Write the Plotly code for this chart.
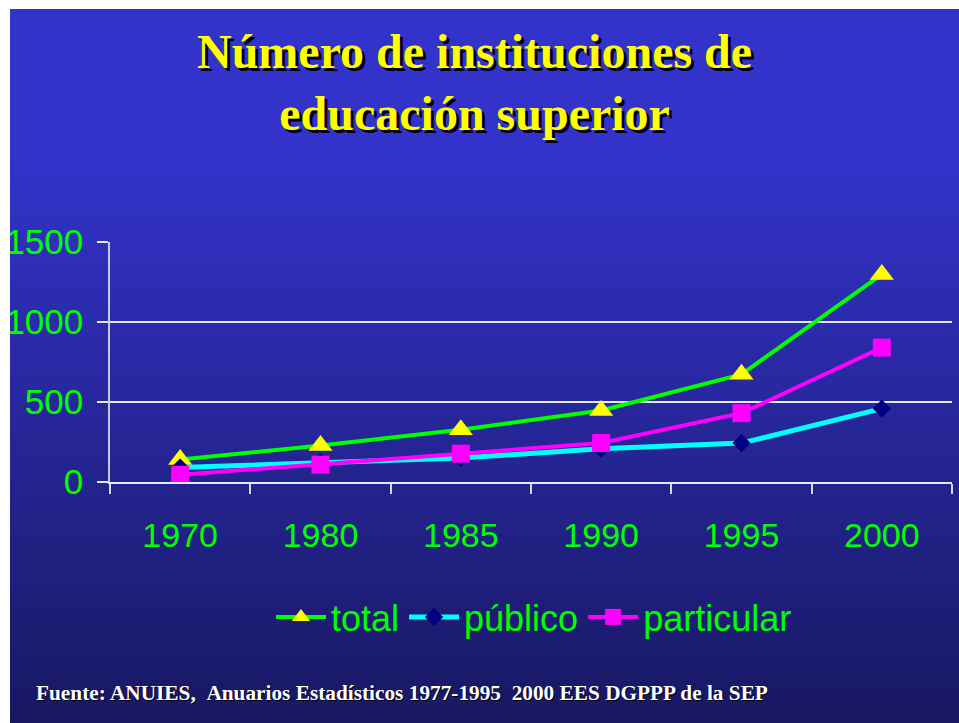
import plotly.graph_objects as go

years = ["1970", "1980", "1985", "1990", "1995", "2000"]
total = [140, 228, 326, 447, 673, 1297]
publico = [90, 122, 150, 208, 243, 459]
particular = [45, 108, 177, 244, 430, 840]
y_ticks = [0, 500, 1000, 1500]

title_text = "Número de instituciones de<br>educación superior"
source_text = "Fuente: ANUIES,\u00a0\u00a0Anuarios Estadísticos 1977-1995\u00a0\u00a02000 EES DGPPP de la SEP"

W, H = 959, 723
L, R, T, B = 110, 952, 242, 482  # plot area pixels


def px_x(p):
    return (p - L) / (R - L)


def px_y(p):
    return (B - p) / (B - T)


fig = go.Figure()
fig.add_trace(go.Scatter(
    x=years, y=total, name="total", mode="lines+markers",
    line=dict(color="#00FF00", width=4),
    marker=dict(symbol="triangle-up", size=21, color="#FFFF00", line=dict(width=0)),
))
fig.add_trace(go.Scatter(
    x=years, y=publico, name="público", mode="lines+markers",
    line=dict(color="#00FFFF", width=5),
    marker=dict(symbol="diamond", size=14, color="#000080", line=dict(width=0)),
))
fig.add_trace(go.Scatter(
    x=years, y=particular, name="particular", mode="lines+markers",
    line=dict(color="#FF00FF", width=4),
    marker=dict(symbol="square", size=18, color="#FF00FF", line=dict(width=0)),
))

# gradient background bands
shapes = []
top_px, bot_px = 9, H
flat_end = 150
c0 = (51, 51, 204)
c1 = (24, 24, 98)
n = 120
step = (bot_px - flat_end) / n
shapes.append(dict(type="rect", xref="paper", yref="paper", layer="below",
                   x0=px_x(10), x1=px_x(W + 5), y0=px_y(flat_end), y1=px_y(top_px),
                   fillcolor="rgb(%d,%d,%d)" % c0, line=dict(width=0)))
for i in range(n):
    f = (i + 0.5) / n
    c = tuple(round(c0[k] + (c1[k] - c0[k]) * f) for k in range(3))
    y0p = flat_end + i * step
    y1p = y0p + step + 0.8
    shapes.append(dict(type="rect", xref="paper", yref="paper", layer="below",
                       x0=px_x(10), x1=px_x(W + 5), y0=px_y(y1p), y1=px_y(y0p),
                       fillcolor="rgb(%d,%d,%d)" % c, line=dict(width=0)))
# white page edges (clip anything drawn past the slide edge)
shapes.append(dict(type="rect", xref="paper", yref="paper", layer="above",
                   x0=px_x(-5), x1=px_x(10), y0=px_y(H + 5), y1=px_y(-5),
                   fillcolor="#FFFFFF", line=dict(width=0)))
shapes.append(dict(type="rect", xref="paper", yref="paper", layer="above",
                   x0=px_x(-5), x1=px_x(W + 5), y0=px_y(9), y1=px_y(-5),
                   fillcolor="#FFFFFF", line=dict(width=0)))

annotations = [
    dict(text=title_text, xref="paper", yref="paper", x=px_x(474), y=px_y(83),
         xanchor="center", yanchor="middle", showarrow=False,
         font=dict(family="Liberation Serif", size=48, color="#FFFF00", weight="bold",
                   shadow="3px 3px 0px #000000")),
    dict(text=source_text, xref="paper", yref="paper", x=px_x(34), y=px_y(693),
         xanchor="left", yanchor="middle", showarrow=False,
         font=dict(family="Liberation Serif", size=21.3, color="#FFFFFF", weight="bold",
                   shadow="1px 1px 0px #000000")),
]

fig.update_layout(
    width=W, height=H,
    margin=dict(l=L, r=W - R, t=T, b=H - B, pad=0),
    paper_bgcolor="#FFFFFF",
    plot_bgcolor="rgba(0,0,0,0)",
    shapes=shapes,
    annotations=annotations,
    showlegend=True,
    legend=dict(orientation="h", x=px_x(534), y=px_y(617), xanchor="center", yanchor="middle",
                font=dict(family="Liberation Sans", size=36, color="#00FF00"),
                bgcolor="rgba(0,0,0,0)", itemwidth=50, tracegroupgap=0,
                itemsizing="trace"),
    xaxis=dict(type="category", categoryorder="array", categoryarray=years,
               range=[-0.5, len(years) - 0.5], autorange=False,
               showgrid=False, zeroline=False, showline=True, linecolor="#E8E8F0", linewidth=1.5,
               ticks="outside", tickson="boundaries", ticklen=10, tickcolor="#D8D8E8", tickwidth=1.5,
               tickfont=dict(family="Liberation Sans", size=34, color="#00FF00"),
               ticklabelstandoff=22, automargin=False),
    yaxis=dict(range=[0, 1500], autorange=False, tickvals=y_ticks, showgrid=True,
               gridcolor="#E8E8F0", gridwidth=1.5,
               zeroline=False, showline=True, linecolor="#C8C8DC", linewidth=1.5,
               ticks="outside", ticklen=11, tickcolor="#E8E8F0", tickwidth=1.5,
               tickfont=dict(family="Liberation Sans", size=35, color="#00FF00"),
               ticklabelstandoff=7, automargin=False),
)

fig.write_html("out.html", config={"displayModeBar": False},
               post_script="document.body.style.margin='0';document.body.style.overflow='hidden';")
